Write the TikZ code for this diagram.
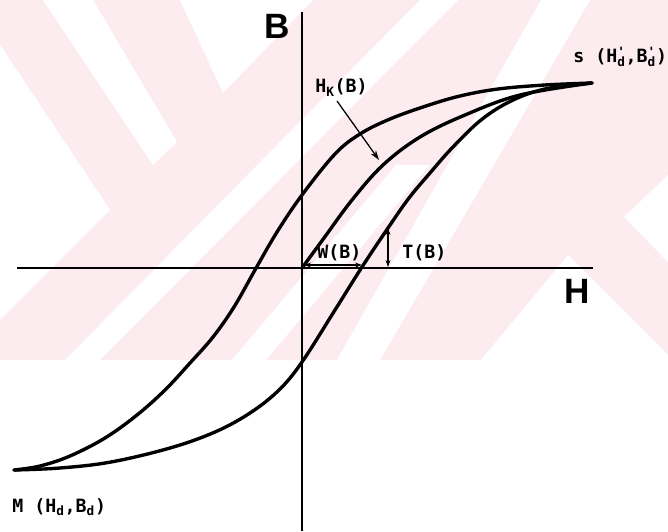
\documentclass[tikz,border=0pt]{standalone}
\usepackage{fontspec}
\setsansfont{Liberation Sans}
\setmonofont{DejaVu Sans Mono}
\usepackage{xcolor}
\definecolor{wmpink}{RGB}{253,236,239}
\usepackage{tikz}
\usetikzlibrary{arrows.meta,positioning}

\newcommand{\primed}[1]{#1\rlap{\textsuperscript{'}}\textsubscript{d}}

\begin{document}
\begin{tikzpicture}[x=0.025cm, y=-0.025cm,
        axis/.style={line width=1.4pt, black},
        curve/.style={line width=2.4pt, black, line join=round, line cap=round},
        ptr/.style={-{Stealth[length=7pt,width=4.5pt]}, line width=0.9pt},
        dptr/.style={{Stealth[length=5pt,width=3.5pt]}-{Stealth[length=5pt,width=3.5pt]}, line width=0.9pt},
        axlabel/.style={font=\sffamily\bfseries\fontsize{25}{30}\selectfont, inner sep=0pt},
        lbl/.style={font=\ttfamily\bfseries\fontsize{13}{15}\selectfont, inner sep=0pt}
    ]
    \useasboundingbox (0,0) rectangle (668,531);

    \begin{scope}
        \clip (0,0) rectangle (668,360);
        \fill[wmpink] (0,0) rectangle (668,360);
        \fill[white] (43,0) -- (93,0) -- (177,142) -- (153,165) -- cycle;
        \fill[white] (0,45) -- (110,210) -- (0,320) -- cycle;
        \fill[white] (180,0) -- (313,0) -- (223,93) -- cycle;
        \fill[white] (420,0) -- (458,0) -- (100,360) -- (65,360) -- cycle;
        \fill[white] (541,0) -- (590,0) -- (380,360) -- (337,360) -- cycle;
        \fill[white] (232,360) -- (266,360) -- (430,165) -- (396,165) -- cycle;
        \fill[white] (668,175) -- (624,217) -- (668,262) -- cycle;
        \fill[white] (481,360) -- (568,255) -- (673,360) -- cycle;
    \end{scope}

    \coordinate (O) at (302,268);
    \coordinate (S) at (592,83);
    \coordinate (M) at (14,470);
    \coordinate (hleft) at (17,268);
    \coordinate (hright) at (593,268);
    \coordinate (vtop) at (302,12);
    \coordinate (vbot) at (302,531);

    \draw[axis] (hleft) -- (hright);
    \draw[axis] (vtop) -- (vbot);

    \draw[curve] plot[smooth, tension=0.6] coordinates {(S) (545,85) (498,89) (460,96) (426,106) (390,119) (360,134) (335,154) (302,195) (277,232) (255,270) (234,307) (213,337) (190,363) (165,390) (137,415) (105,438) (70,456) (40,466) (M)};
    \draw[curve] plot[smooth, tension=0.6] coordinates {(M) (60,468) (111,462) (170,448) (215,432) (250,413) (279,390) (302,362) (335,310) (362,267) (388,228) (409,198) (430,173) (452,148) (481,120) (511,101) (545,89) (S)};
    \draw[curve] plot[smooth, tension=0.6] coordinates {(O) (324,238) (352,200) (383,165) (420,137) (465,115) (520,95) (S)};

    \node[axlabel] (blabel) at (277,26) {B};
    \node[axlabel] (hlabel) at (577,291) {H};
    \node[lbl, anchor=base west] (slabel) at (573,63) {s (\primed{H},\primed{B})};
    \node[lbl, anchor=base west] (mlabel) at (12,512) {M (H\textsubscript{d},B\textsubscript{d})};
    \node[lbl, anchor=base west] (hk) at (315,93) {H\textsubscript{K}(B)};
    \node[lbl, anchor=base west] (wlabel) at (317,258) {W(B)};
    \node[lbl, anchor=base west] (tlabel) at (402,258) {T(B)};

    \coordinate (hkfoot) at (337,101);
    \coordinate (hktip) at (379,160);
    \coordinate (wl) at (304,265);
    \coordinate (wr) at (362,265);
    \coordinate (tt) at (388,228);
    \coordinate (tb) at (388,267);

    \draw[ptr] (hkfoot) -- (hktip);
    \draw[dptr] (wl) -- (wr);
    \draw[dptr] (tt) -- (tb);
\end{tikzpicture}
\end{document}
